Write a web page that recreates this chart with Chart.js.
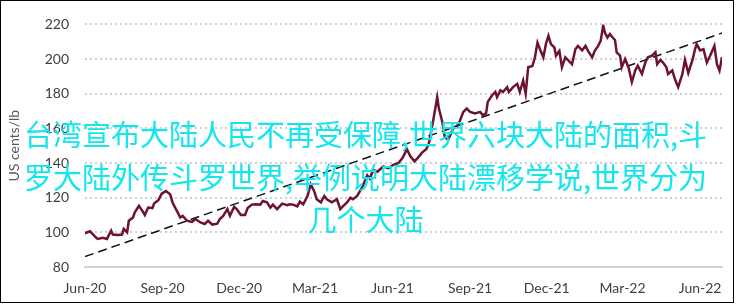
<!DOCTYPE html>
<html>
<head>
<meta charset="utf-8">
<title>US cents/lb</title>
<script src="https://cdn.jsdelivr.net/npm/chart.js@4.4.0/dist/chart.umd.min.js"></script>
<style>
  html, body { margin: 0; padding: 0; background: #fff; }
  #wrap { position: relative; width: 738px; height: 307px; overflow: hidden; }
  #frame { position: absolute; left: 0; top: 0; width: 732px; height: 301px; border: 1.5px solid #000; }
  #chart { position: absolute; left: 0; top: 0; }
  #overlay {
    position: absolute; left: 18px; top: 112px; width: 695px;
    font-family: "Noto Sans CJK SC", sans-serif; font-size: 29px; line-height: 42.5px;
    color: #14e6ee; text-align: center; pointer-events: none;
  }
</style>
</head>
<body>
<div id="wrap">
  <canvas id="chart" width="738" height="307"></canvas>
  <div id="frame"></div>
  <div id="overlay">台湾宣布大陆人民不再受保障,世界六块大陆的面积,斗<br>罗大陆外传斗罗世界,举例说明大陆漂移学说,世界分为<br>几个大陆</div>
</div>
<script>
// days since 1 Jun 2020
const dayOffsets = [
  0, 6, 12, 15, 21, 26, 31, 33, 39, 44, 46, 50, 52, 57, 59, 64, 68, 71, 75, 80,
  82, 87, 91, 96, 101, 104, 109, 113, 116, 121, 127, 131, 137, 142, 146, 151, 157, 160, 164, 169,
  172, 177, 180, 185, 190, 193, 198, 202, 208, 211, 216, 220, 223, 228, 234, 240, 243, 247, 252, 255,
  259, 264, 268, 272, 275, 280, 284, 287, 293, 299, 303, 306, 311, 315, 318, 323, 329, 335, 338, 342,
  347, 354, 360, 366, 372, 377, 382, 386, 391, 395, 400, 405, 408, 413, 418, 420, 424, 427, 431, 437,
  443, 449, 453, 457, 463, 469, 472, 476, 478, 483, 487, 489, 493, 496, 501, 503, 508, 513, 516, 520,
  523, 526, 531, 534, 537, 540, 544, 547, 550, 553, 557, 559, 563, 566, 570, 573, 578, 582, 585, 590,
  594, 597, 602, 605, 609, 612, 615, 617, 620, 623, 627, 629, 631, 635, 637, 641, 645, 649, 653, 656,
  661, 665, 668, 673, 677, 679, 683, 686, 690, 692, 697, 700, 704, 709, 712, 716, 721, 724, 726, 730,
  734, 738, 742, 747, 750, 753, 756
];
// price, US cents/lb
const prices = [
  99.5, 100.6, 97.5, 96.2, 96.8, 96.2, 101, 98.7, 98.5, 98.7, 102, 100, 106.7, 108.6, 111.4, 115.3, 112.4, 110, 114.3, 114,
  116.6, 118.5, 122.3, 123.8, 122, 117.1, 112.4, 108.6, 109.5, 106.7, 106, 107.7, 105.7, 104.8, 106.7, 104.5, 105, 107.7, 109.5, 113.4,
  109.5, 114.7, 113.4, 110, 110, 114, 116, 116.2, 116, 118.1, 117.3, 114.3, 116, 113.4, 116.6, 115.7, 116.2, 116, 115, 117.7,
  116.2, 121, 127.7, 123.8, 119.1, 117.3, 121, 119.1, 117.3, 119.1, 113.4, 115, 117.3, 120, 119.1, 121, 126, 133, 131, 136,
  135, 138, 137, 139, 140, 143, 148, 144, 141, 143, 146, 148, 151, 163.8, 178, 171.4, 163.8, 155, 153.4, 160,
  162, 169.5, 171.4, 169.5, 168.6, 169.5, 167.6, 168.6, 175.3, 179, 181, 178, 182, 181, 183.8, 181, 183.8, 185.7, 181, 187.6,
  180, 195.3, 196, 201, 209.5, 205.7, 201, 208.6, 213.4, 208.6, 206.7, 202, 204.7, 195.3, 201, 199.5, 197, 205.7, 207.6, 205,
  207.6, 204.7, 201, 204.7, 207.6, 210.5, 219.4, 215.3, 212.4, 214.4, 212, 211, 203.8, 202, 195.3, 200, 195.3, 186.7, 193.4, 196.2,
  191.4, 198, 201, 202, 204, 197, 199.5, 198, 195.3, 191.4, 193.4, 188.6, 183.8, 191.4, 199.5, 192, 199.5, 205.7, 208.6, 205,
  205.7, 198, 202, 207.6, 197, 193.4, 201
];
const trendDays = [0, 756];
const trendValues = [86, 215];
const tickDays = [0, 92, 183, 273, 365, 457, 548, 638, 730];
const tickLabels = ['Jun-20', 'Sep-20', 'Dec-20', 'Mar-21', 'Jun-21', 'Sep-21', 'Dec-21', 'Mar-22', 'Jun-22'];

const labelFont = { family: 'Lato, "Open Sans", sans-serif', size: 14 };

const ctx = document.getElementById('chart').getContext('2d');
new Chart(ctx, {
  type: 'line',
  data: {
    datasets: [{
      data: dayOffsets.map((d, i) => ({ x: d, y: prices[i] })),
      borderColor: '#6d1230',
      borderWidth: 2.5,
      pointRadius: 0,
      tension: 0
    }, {
      data: trendDays.map((d, i) => ({ x: d, y: trendValues[i] })),
      borderColor: '#111',
      borderWidth: 1.5,
      borderDash: [9, 5],
      pointRadius: 0
    }]
  },
  options: {
    responsive: false,
    animation: false,
    layout: { padding: { left: 0, right: 16, top: 22, bottom: 0 } },
    plugins: { legend: { display: false }, tooltip: { enabled: false } },
    scales: {
      x: {
        type: 'linear',
        min: 0,
        max: 756,
        afterFit: (scale) => { scale.height = 40; },
        afterBuildTicks: (scale) => { scale.ticks = tickDays.map(v => ({ value: v })); },
        grid: { display: false, drawTicks: false },
        border: { display: true, color: '#d4d4d4', width: 2 },
        ticks: {
          autoSkip: false, maxRotation: 0, padding: 13,
          color: '#404040', font: labelFont,
          callback: (v) => tickLabels[tickDays.indexOf(v)]
        }
      },
      y: {
        min: 80,
        max: 220,
        afterFit: (scale) => { scale.width = 85; },
        ticks: { stepSize: 10, padding: 16, color: '#404040', font: labelFont },
        grid: {
          drawTicks: false,
          lineWidth: 2,
          color: (c) => c.tick && c.tick.value === 80 ? 'rgba(0,0,0,0)' : '#d0d0d0'
        },
        border: { display: false, dash: [2, 3] },
        title: { display: true, text: 'US cents/lb', color: '#595959', font: labelFont, padding: { top: 6, bottom: 0 } }
      }
    }
  }
});
</script>
</body>
</html>
